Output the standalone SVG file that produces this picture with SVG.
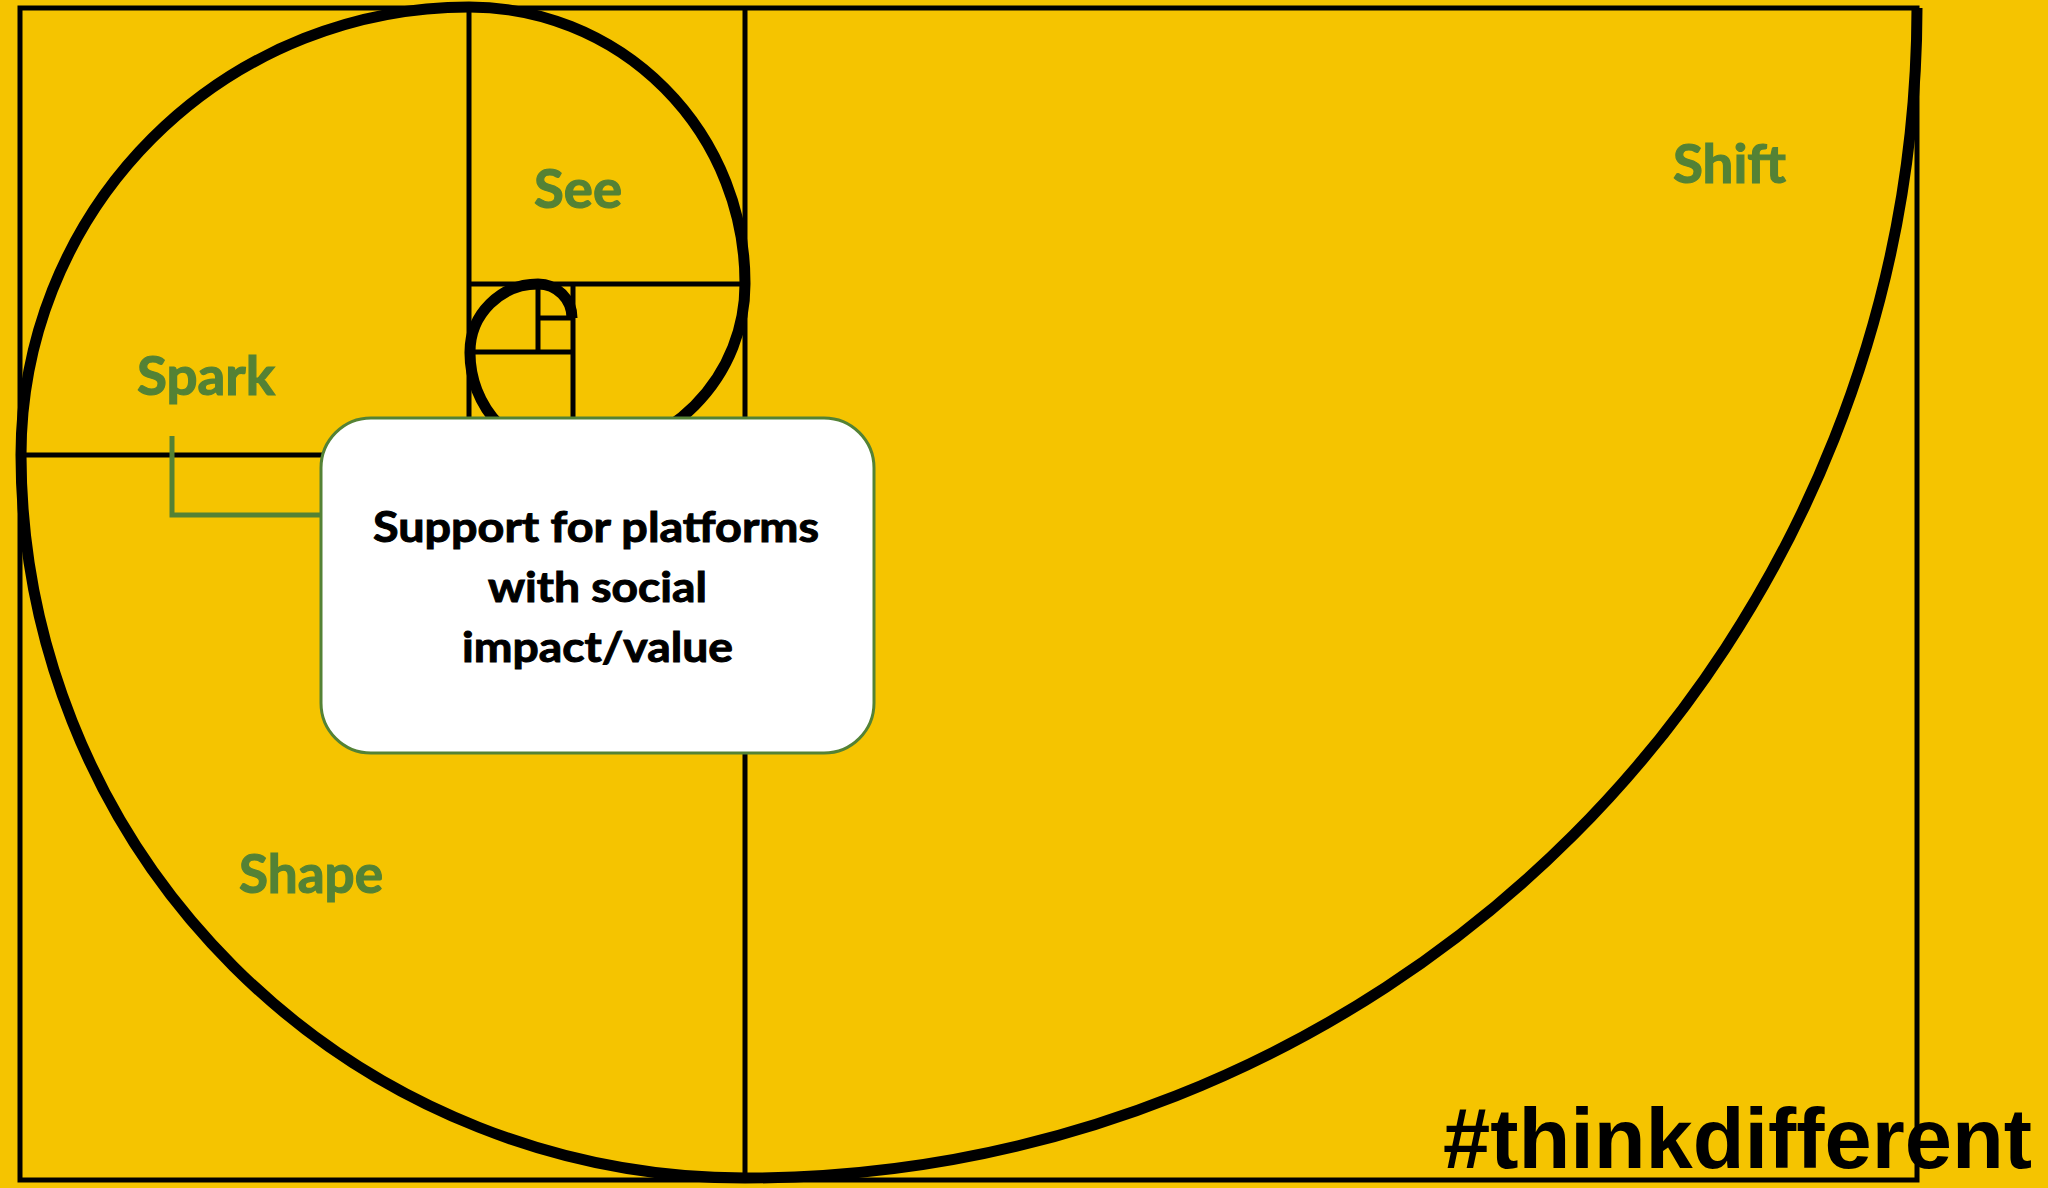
<svg xmlns="http://www.w3.org/2000/svg" width="2048" height="1188" viewBox="0 0 2048 1188">
<style>
.grid{fill:none;stroke:#000;stroke-width:5}
.spiral{fill:none;stroke:#000;stroke-width:11;stroke-linecap:butt;stroke-linejoin:round}
.lbl{font-family:Lato,"Open Sans","Liberation Sans",sans-serif;font-weight:700;font-size:54px;fill:#548235;stroke:#548235;stroke-width:1.2}
.cap{font-family:Lato,"Open Sans","Liberation Sans",sans-serif;font-weight:700;font-size:42px;fill:#000;stroke:#000;stroke-width:1}
.tag{font-family:"Liberation Sans",Arial,sans-serif;font-weight:700;font-size:85px;fill:#000}
.conn{fill:none;stroke:#548235;stroke-width:5}
</style>
<rect x="0" y="0" width="2048" height="1188" fill="#F5C400"/>
<g id="grid" class="grid">
<rect x="20" y="8" width="1897" height="1172"/>
<line x1="745" y1="8" x2="745" y2="1180"/>
<line x1="20" y1="455" x2="745" y2="455"/>
<line x1="469" y1="8" x2="469" y2="455"/>
<line x1="469" y1="284" x2="745" y2="284"/>
<line x1="573" y1="284" x2="573" y2="455"/>
<line x1="469" y1="352" x2="573" y2="352"/>
<line x1="538" y1="284" x2="538" y2="352"/>
<line x1="538" y1="318" x2="573" y2="318"/>
</g>
<g id="spiral">
<path class="spiral" d="M1917,8 A1172,1172 0 0 1 745,1178 A724,724 0 0 1 21,455 A448,448 0 0 1 469,7 A276,276 0 0 1 745,284 A172,172 0 0 1 573,456 A103,103 0 0 1 470,352 A68,68 0 0 1 538,284 A34,34 0 0 1 572,318"/>
</g>
<g id="label-see"><text class="lbl" x="534" y="208" textLength="88" lengthAdjust="spacingAndGlyphs">See</text></g>
<g id="label-spark"><text class="lbl" x="137" y="395" textLength="138" lengthAdjust="spacingAndGlyphs">Spark</text></g>
<g id="label-shift"><text class="lbl" x="1673" y="183" textLength="113" lengthAdjust="spacingAndGlyphs">Shift</text></g>
<g id="label-shape"><text class="lbl" x="239" y="893" textLength="144" lengthAdjust="spacingAndGlyphs">Shape</text></g>
<g id="connectors">
<polyline class="conn" points="172,436 172,515 321,515"/>
</g>
<g id="callout">
<rect x="321" y="418" width="553" height="335" rx="50" ry="50" fill="#fff" stroke="#548235" stroke-width="3"/>
<text class="cap" x="373" y="542" textLength="446" lengthAdjust="spacingAndGlyphs">Support for platforms</text>
<text class="cap" x="488" y="602" textLength="219" lengthAdjust="spacingAndGlyphs">with social</text>
<text class="cap" x="462" y="662" textLength="271" lengthAdjust="spacingAndGlyphs">impact/value</text>
</g>
<g id="hashtag"><text class="tag" x="1443" y="1168" textLength="589" lengthAdjust="spacingAndGlyphs">#thinkdifferent</text></g>
</svg>
